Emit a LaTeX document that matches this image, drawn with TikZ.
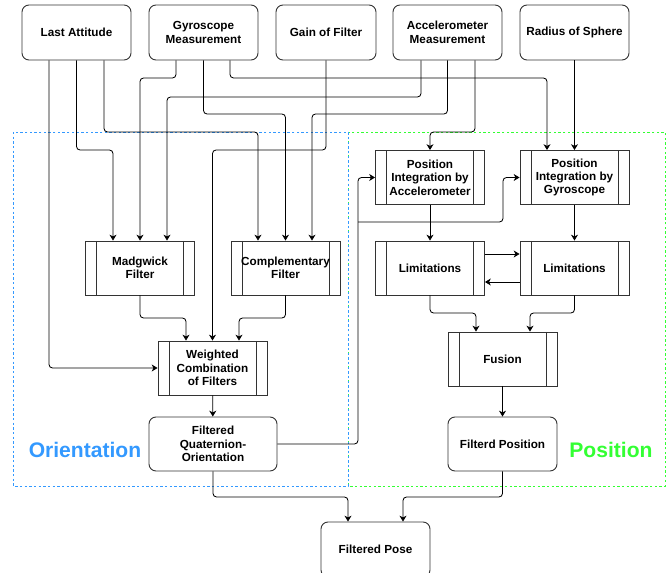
\documentclass[tikz,border=0pt]{standalone}
\usepackage{fontspec}
\setmainfont{Liberation Sans}
\usetikzlibrary{arrows.meta}
\definecolor{orientblue}{HTML}{3399FF}
\definecolor{posgreen}{HTML}{33FF33}

\begin{document}
\begin{tikzpicture}[x=0.03cm, y=-0.03cm,
    every node/.style={font=\bfseries\fontsize{10}{11.5}\selectfont, align=center, inner sep=0pt},
    inbox/.style={draw=black!80, line width=0.8pt, rounded corners=6pt, minimum width=3.27cm, minimum height=1.65cm},
    procbox/.style={draw=black!80, line width=0.8pt, minimum width=3.27cm, minimum height=1.62cm,
        path picture={\draw[black!80, line width=0.8pt]
            ([xshift=0.33cm]path picture bounding box.north west) -- ([xshift=0.33cm]path picture bounding box.south west)
            ([xshift=-0.33cm]path picture bounding box.north east) -- ([xshift=-0.33cm]path picture bounding box.south east);}},
    grouplabel/.style={font=\bfseries\fontsize{18}{20}\selectfont},
    groupframe/.style={line width=0.7pt, dash pattern=on 2pt off 2pt},
    flow/.style={draw=black, line width=0.7pt, rounded corners=3pt, -{Stealth[length=5pt,width=6pt,inset=1.5pt]}}]

    \useasboundingbox (0,0) rectangle (670,573);

    \draw[groupframe, posgreen] (348,132) rectangle (665,486);
    \draw[groupframe, orientblue] (13,132) rectangle (348,486);

    \node[inbox] (att) at (76.5, 32.5) {Last Attitude};
    \node[inbox] (gyro) at (203.5, 32.5) {Gyroscope\\Measurement};
    \node[inbox, minimum width=3cm] (gain) at (326, 32.5) {Gain of Filter};
    \node[inbox] (acc) at (447.5, 32.5) {Accelerometer\\Measurement};
    \node[inbox] (rad) at (574.5, 32.5) {Radius of Sphere};

    \node[procbox] (madg) at (140, 268) {Madgwick\\Filter};
    \node[procbox] (comp) at (285.5, 268) {Complementary\\Filter};
    \node[procbox] (wcf) at (212.5, 368) {Weighted\\Combination\\of Filters};
    \node[inbox, minimum width=3.84cm, minimum height=1.62cm] (fqo) at (213, 444) {Filtered\\Quaternion-\\Orientation};

    \node[procbox] (pia) at (430, 177.5) {Position\\Integration by\\Accelerometer};
    \node[procbox] (pig) at (574.5, 177.5) {Position\\Integration by\\Gyroscope};
    \node[procbox] (lima) at (430, 268) {Limitations};
    \node[procbox] (limg) at (574.5, 268) {Limitations};
    \node[procbox] (fus) at (502.5, 359) {Fusion};
    \node[inbox, minimum height=1.62cm] (fpos) at (502.5, 444) {Filterd Position};

    \node[inbox] (pose) at (375.5, 549.5) {Filtered Pose};

    \node[grouplabel, text=orientblue] (orilabel) at (85, 450) {Orientation};
    \node[grouplabel, text=posgreen] (poslabel) at (611, 450) {Position};

    \coordinate (split) at (358, 222);

    \draw[flow] (att.south -| 49,0) |- (wcf.west);
    \draw[flow] (att.south) |- (113,150) -- (madg.north -| 113,0);
    \draw[flow] (att.south -| 104,0) |- (258,132) -- (comp.north -| 258,0);
    \draw[flow] (gyro.south -| 176,0) |- (140,78) -- (madg.north);
    \draw[flow] (gyro.south) |- (285.5,114) -- (comp.north);
    \draw[flow] (gyro.south -| 230,0) |- (547,78) -- (pig.north -| 547,0);
    \draw[flow] (gain.south) |- (212.5,150) -- (wcf.north);
    \draw[flow] (acc.south -| 421,0) |- (167,97) -- (madg.north -| 167,0);
    \draw[flow] (acc.south) |- (312,114) -- (comp.north -| 312,0);
    \draw[flow] (acc.south -| 475,0) |- (430,132) -- (pia.north);
    \draw[flow] (rad) -- (pig);

    \draw[flow] (madg.south) |- (186,318) -- (wcf.north -| 186,0);
    \draw[flow] (comp.south) |- (239,318) -- (wcf.north -| 239,0);
    \draw[flow] (wcf) -- (fqo);
    \draw[flow] (fqo.east) -| (split) |- (pia.west);
    \draw[flow] (split) -| (503,0 |- pig.west) -- (pig.west);

    \draw[flow] (pia) -- (lima);
    \draw[flow] (pig) -- (limg);
    \draw[flow] (lima.east |- 0,254) -- (limg.west |- 0,254);
    \draw[flow] (limg.west |- 0,282) -- (lima.east |- 0,282);
    \draw[flow] (lima.south) |- (476,313) -- (fus.north -| 476,0);
    \draw[flow] (limg.south) |- (530,313) -- (fus.north -| 530,0);
    \draw[flow] (fus) -- (fpos);

    \draw[flow] (fqo.south) |- (348,497) -- (pose.north -| 348,0);
    \draw[flow] (fpos.south) |- (403,497) -- (pose.north -| 403,0);
\end{tikzpicture}
\end{document}
